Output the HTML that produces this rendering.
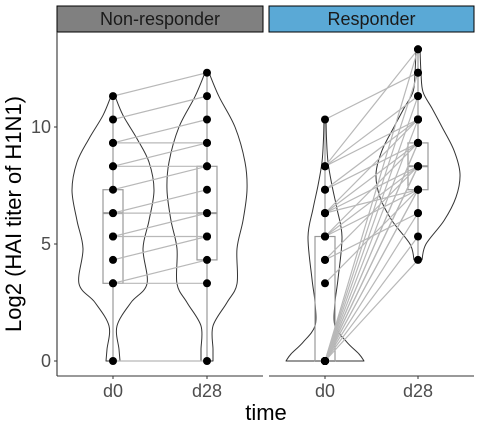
<!DOCTYPE html>
<html><head><meta charset="utf-8"><style>
body{margin:0;background:#fff}
svg{display:block;font-family:"Liberation Sans",sans-serif}
</style></head><body>
<svg id="chart" width="480" height="432" viewBox="0 0 480 432">
<rect width="480" height="432" fill="#fff"/>
<g id="panels"></g>
<text x="21" y="214" font-size="22" text-anchor="middle" transform="rotate(-90 21 214)" fill="#000">Log2 (HAI titer of H1N1)</text>
<text x="266" y="420" font-size="22" text-anchor="middle" fill="#000">time</text>
</svg>
<script>
const groups=["Non-responder","Responder"];
const timepoints=["d0","d28"];
const yTicks=[0,5,10];
const nonPairs=[[11.32,12.32],[10.32,11.32],[9.32,10.32],[9.32,9.32],[8.32,9.32],[8.32,8.32],[7.32,8.32],[6.32,7.32],[6.32,6.32],[5.32,6.32],[5.32,5.32],[4.32,5.32],[3.32,4.32],[3.32,3.32],[0,0]];
const resPairs=[[10.32,12.32],[8.32,13.32],[8.32,11.32],[8.32,10.32],[7.32,10.32],[7.32,9.32],[6.32,10.32],[6.32,9.32],[6.32,8.32],[6.32,7.32],[5.32,9.32],[5.32,8.32],[5.32,7.32],[4.32,8.32],[4.32,6.32],[3.32,7.32],[0,13.32],[0,12.32],[0,11.32],[0,10.32],[0,9.32],[0,9.32],[0,8.32],[0,8.32],[0,7.32],[0,7.32],[0,6.32],[0,5.32],[0,4.32],[0,8.32]];
const boxNon=[[0,3.32,6.32,7.32,11.32],[0,4.32,6.32,8.32,12.32]];
const boxRes=[[0,0,0,5.32,10.32],[4.32,7.32,8.32,9.32,13.32]];
const violinNon=[
 [[0,7],[0.5,6],[1.5,4],[2.5,18],[3.3,34],[4.8,30],[6,36],[7.3,41],[8.5,36],[9.5,24],[10.5,10],[11.32,2]],
 [[0,6],[0.5,6],[1.5,6],[2.5,20],[3.3,30],[4.8,30],[6,36],[7.3,40],[8.5,38],[10,28],[11.3,12],[12.32,2]]];
const violinRes=[
 [[0,39],[0.3,34],[0.8,22],[1.5,10],[2.5,10],[3.5,13],[5.3,17],[6.5,12],[7.5,7],[8.5,3],[9.5,1.5],[10.32,1]],
 [[4.32,4],[5,8],[6,26],[7,38],[8,42],[9,36],[10,24],[10.8,14],[11.5,5],[12.3,3],[13.32,2]]];

const NS="http://www.w3.org/2000/svg";
const g=document.getElementById('panels');
const yTop=32,yBot=376;
function y(v){return 361-v*23.4;}
const panelX=[[57,263],[269,474]];
const centers=[[113,207],[325,418]];
function el(t,a,p){const e=document.createElementNS(NS,t);for(const k in a)e.setAttribute(k,a[k]);(p||g).appendChild(e);return e;}
function smooth(P){let d='';for(let i=0;i<P.length-1;i++){const p0=P[Math.max(i-1,0)],p1=P[i],p2=P[i+1],p3=P[Math.min(i+2,P.length-1)];
 const c1=[p1[0]+(p2[0]-p0[0])/6,p1[1]+(p2[1]-p0[1])/6],c2=[p2[0]-(p3[0]-p1[0])/6,p2[1]-(p3[1]-p1[1])/6];
 d+=' C'+c1[0]+','+c1[1]+' '+c2[0]+','+c2[1]+' '+p2[0]+','+p2[1];}return d;}

const allPairs=[nonPairs,resPairs],allBox=[boxNon,boxRes],allViol=[violinNon,violinRes];
for(let p=0;p<2;p++){
  const [x0,x1]=panelX[p];
  const pg=el('g',{});
  
  
  const strip=el('rect',{x:x0,y:6,width:x1-x0,height:26,fill:p?'#5aa9d6':'#808080',stroke:'#000','stroke-width':1},pg);
  
  
  const st=el('text',{x:(x0+x1)/2,y:25,'font-size':18,'text-anchor':'middle',fill:'#1a1a1a'},pg);
  st.textContent=groups[p];
  
  
  for(let t=0;t<2;t++){
    const pts=allViol[p][t],c=centers[p][t];
    const R=pts.map(q=>[c+q[1],y(q[0])]);
    const L=pts.slice().reverse().map(q=>[c-q[1],y(q[0])]);
    const d='M'+R[0][0]+','+R[0][1]+smooth(R)+' L'+L[0][0]+','+L[0][1]+smooth(L)+'Z';
    const v=el('path',{d:d,fill:'none',stroke:'#333','stroke-width':1,'stroke-linejoin':'round'},pg);
    
    
    const b=allBox[p][t];
    const bg=el('g',{stroke:'#999','stroke-width':1.2,fill:'none'},pg);
    
    
    el('line',{x1:c,x2:c,y1:y(b[0]),y2:y(b[1])},bg);
    el('line',{x1:c,x2:c,y1:y(b[3]),y2:y(b[4])},bg);
    el('rect',{x:c-10,y:y(b[3]),width:20,height:y(b[1])-y(b[3])},bg);
    el('line',{x1:c-10,x2:c+10,y1:y(b[2]),y2:y(b[2]),'stroke-width':2},bg);
  }
  for(const pr of allPairs[p]){
    const l=el('line',{x1:centers[p][0],y1:y(pr[0]),x2:centers[p][1],y2:y(pr[1]),stroke:'#b8b8b8','stroke-width':1.2},pg);
    
    
  }
  for(const pr of allPairs[p]){
    for(let t=0;t<2;t++){
      const c=el('circle',{cx:centers[p][t],cy:y(pr[t]),r:4,fill:'#000'},pg);
      
      
    }
  }
  const ax=el('line',{x1:x0,x2:x1,y1:yBot,y2:yBot,stroke:'#333','stroke-width':1.1},pg);
  
  
  for(let t=0;t<2;t++){
    el('line',{x1:centers[p][t],x2:centers[p][t],y1:yBot,y2:yBot+3,stroke:'#333'},pg);
    const tx=el('text',{x:centers[p][t],y:397,'font-size':18,'text-anchor':'middle',fill:'#4d4d4d'},pg);
    tx.textContent=timepoints[t];
    
    
  }
}
const ya=el('line',{x1:57,x2:57,y1:yTop,y2:yBot,stroke:'#333','stroke-width':1.1});


for(const v of yTicks){
  el('line',{x1:54,x2:57,y1:y(v),y2:y(v),stroke:'#333'});
  const tx=el('text',{x:51,y:y(v)+6,'font-size':18,'text-anchor':'end',fill:'#4d4d4d'});
  tx.textContent=v;
  
  
}
</script>
</body></html>
